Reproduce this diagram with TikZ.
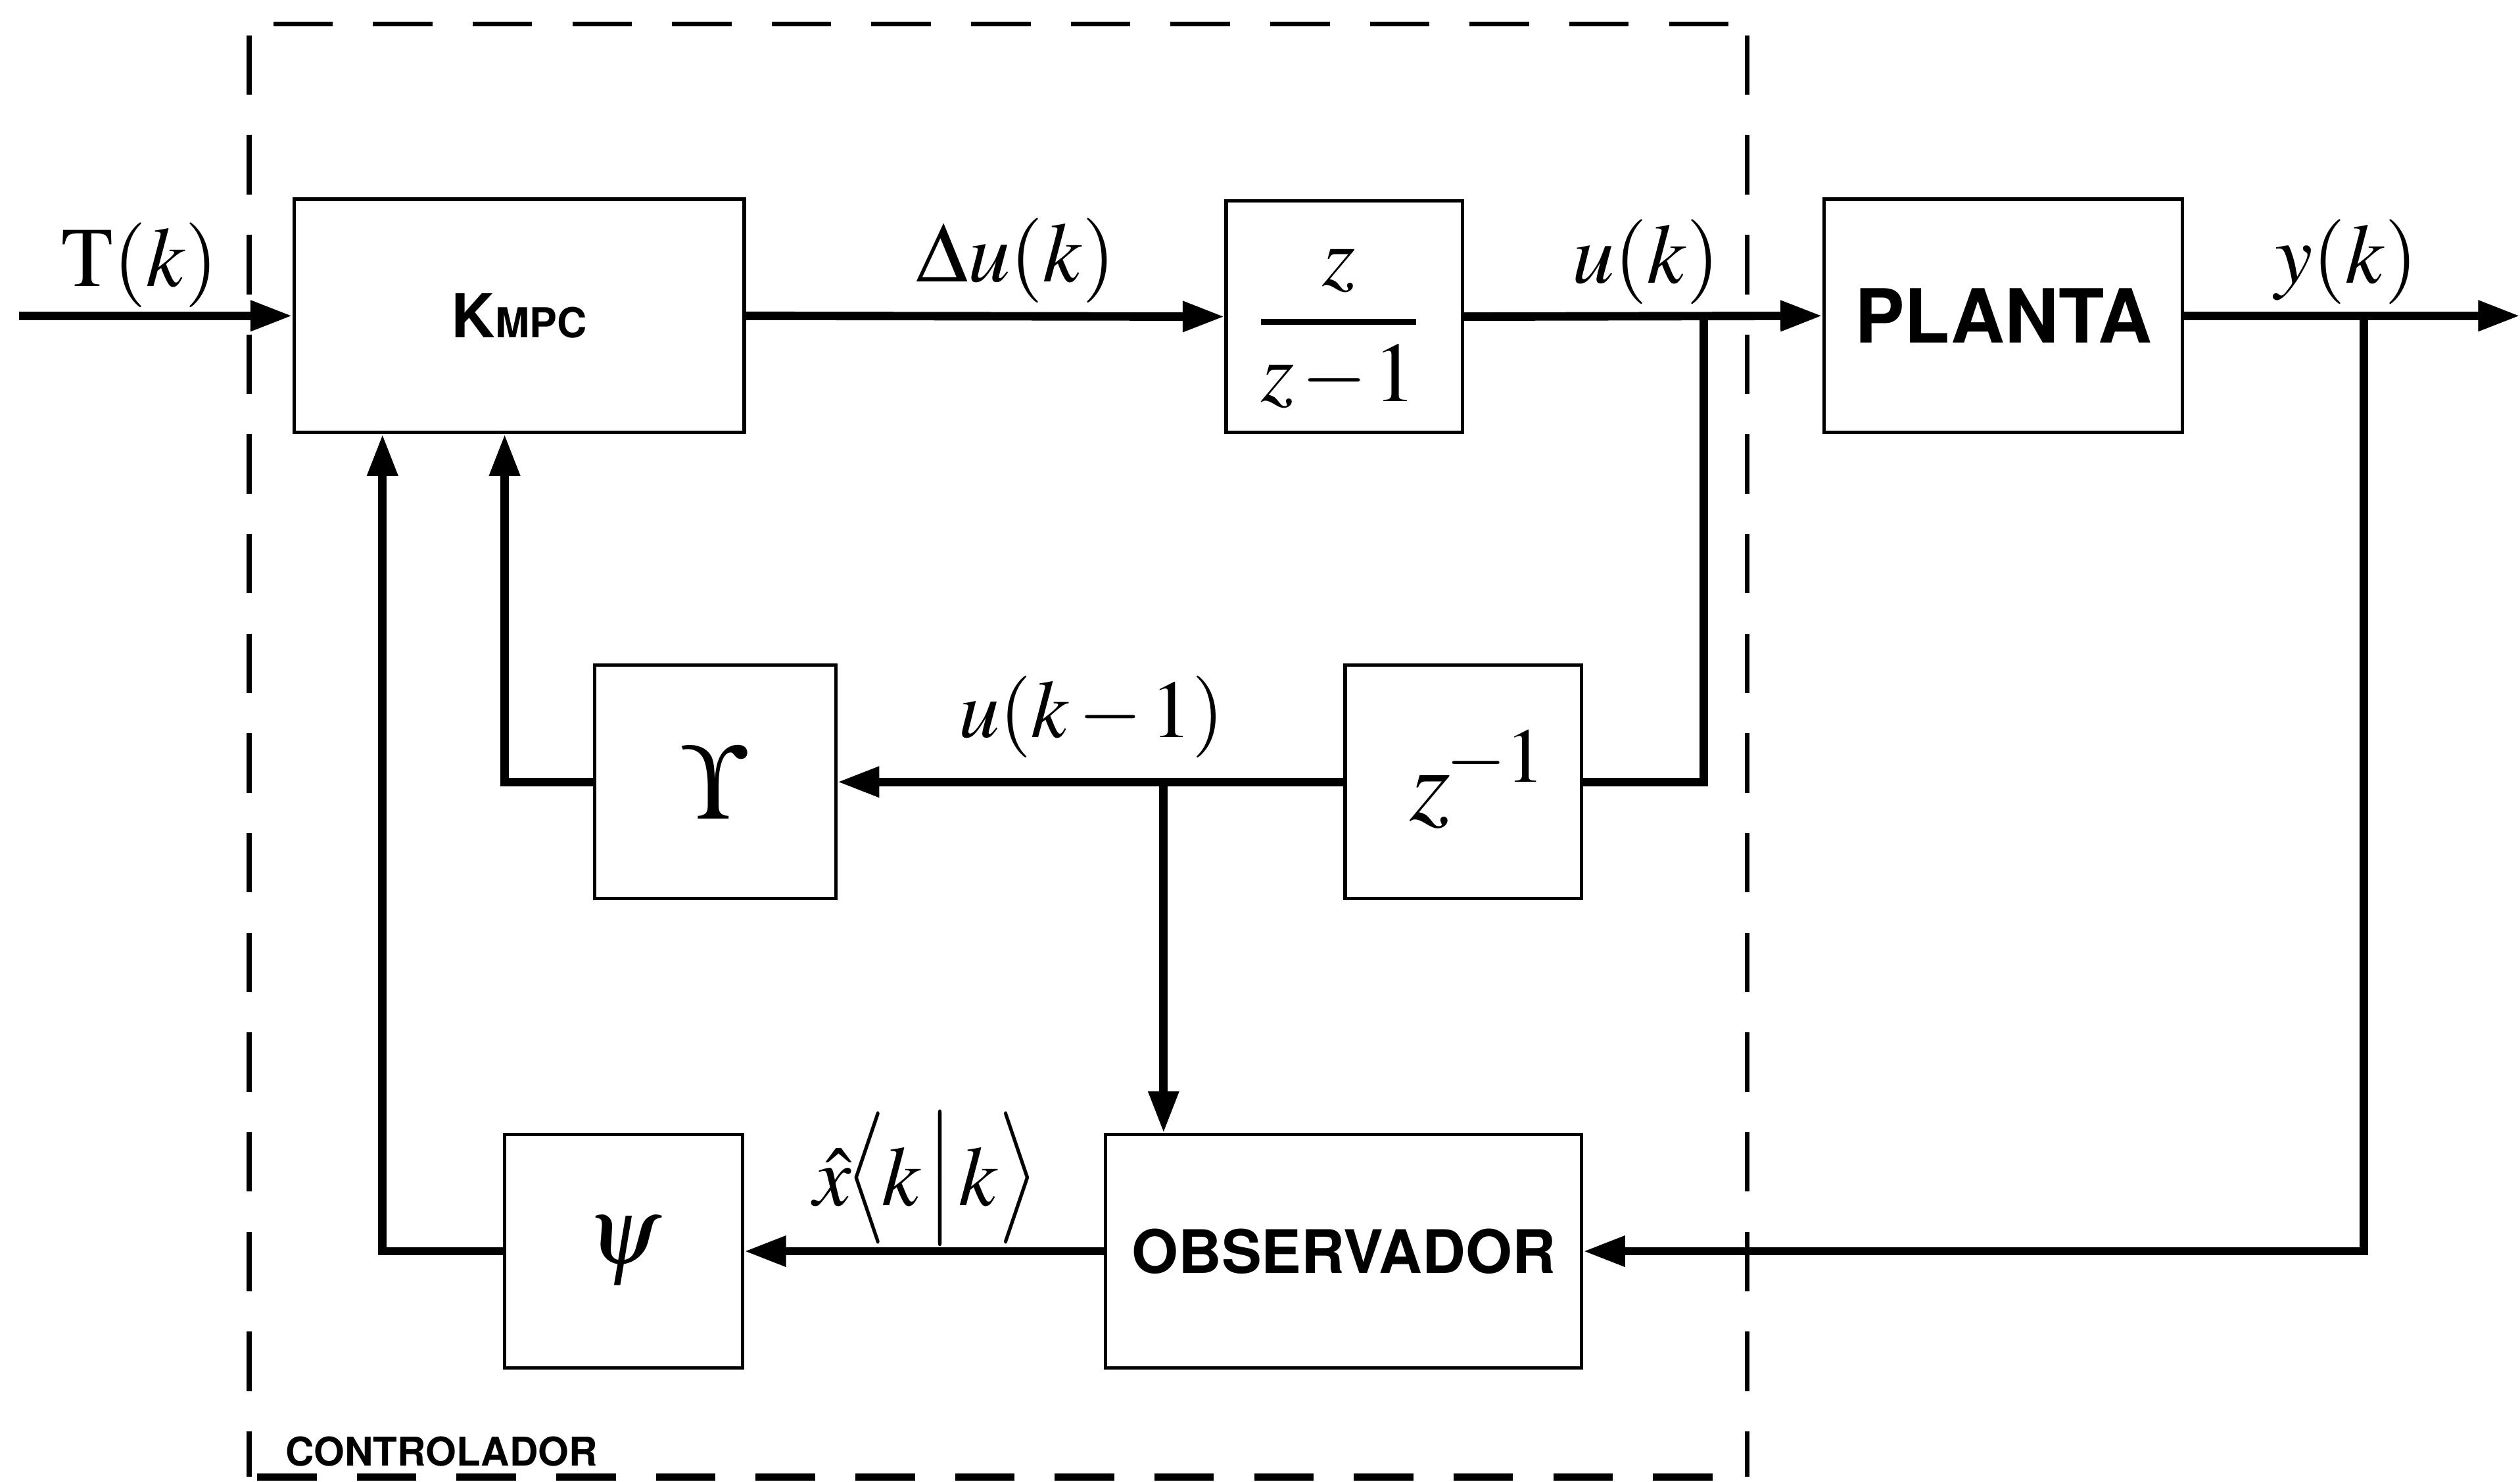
\documentclass[tikz,border=0pt]{standalone}
\usepackage{amsmath}
\usepackage{mathptmx}
\usepackage{fontspec}
\setmainfont{Liberation Serif}
\newfontfamily\heros{TeX Gyre Heros}
\usetikzlibrary{arrows.meta}
\newcommand{\tallbr}[1]{\scalebox{1}[1.3]{$#1$}}
\begin{document}
\begin{tikzpicture}[x=0.01cm,y=-0.01cm,
  blk/.style={draw, line width=0.6pt, rectangle, inner sep=0pt, align=center},
  conn/.style={line width=1.5pt},
  arr/.style={conn, -{Triangle[length=0.26cm,width=0.18cm]}},
  lbl/.style={inner sep=0pt, font=\fontsize{15}{18}\selectfont},
  sansb/.style={inner sep=0pt, font=\heros\bfseries},
  frame/.style={line width=0.85pt, dash pattern=on 0.37cm off 0.25cm}]
\useasboundingbox (0,0) rectangle (1568,922);

% dashed controller frame
\draw[frame] (170,15) -- (1087,15);
\draw[frame] (155,22) -- (155,919);
\draw[frame] (1087,22) -- (1087,919);
\draw[frame, line width=1.3pt] (160,919) -- (1087,919);

% blocks
\node[blk, minimum width=2.8cm, minimum height=1.45cm] (kmpc) at (323,196.5)
  {\heros\bfseries\fontsize{10.7}{12}\selectfont K\fontsize{7.3}{9}\selectfont MPC};
\node[blk, minimum width=1.47cm, minimum height=1.44cm] (integ) at (836.5,197) {};
\node[lbl] (integtxt) at (833,204.5)
  {$\genfrac{}{}{1.1pt}{0}{z}{z\mkern-1mu-\mkern-1mu1}$};
\node[blk, minimum width=2.23cm, minimum height=1.45cm] (planta) at (1246.5,196.5)
  {\heros\bfseries\fontsize{13.2}{15}\selectfont PLANTA};
\node[blk, minimum width=1.5cm, minimum height=1.45cm] (ups) at (445,486.5)
  {\fontsize{19}{22}\selectfont$\Upsilon$};
\node[blk, minimum width=1.47cm, minimum height=1.45cm] (zinv) at (910.5,486.5) {};
\node[lbl, font=\fontsize{18.5}{22}\selectfont] (zinvtxt) at (920,485)
  {$z^{\mkern-1mu-1}$};
\node[blk, minimum width=1.48cm, minimum height=1.45cm] (psi) at (388,778.5)
  {\fontsize{17}{20}\selectfont$\psi$};
\node[blk, minimum width=2.96cm, minimum height=1.45cm] (obs) at (836,778.5)
  {\heros\bfseries\fontsize{10.6}{12}\selectfont OBSERVADOR};

% signal labels
\node[lbl] (lT) at (87,165) {$\mathrm{T}(k)$};
\node[lbl] (ldu) at (632,162) {$\Delta u(k)$};
\node[lbl] (lu) at (1024,163) {$u(k)$};
\node[lbl] (ly) at (1460,163) {$y(k)$};
\node[lbl, font=\fontsize{14.5}{18}\selectfont] (luk) at (679,446)
  {$u(k\mkern2mu{-}\mkern2mu1)$};
\node[lbl] (lx) at (576,733)
  {$\hat{x}\mkern-1mu\tallbr{\bigl\langle}\mkern-1mu k\mkern1mu\tallbr{\big|}\mkern1mu k\tallbr{\bigr\rangle}$};
\node[sansb, anchor=west, font=\heros\bfseries\fontsize{7}{8}\selectfont] (lctrl) at (177,903) {CONTROLADOR};

% coordinates
\coordinate (in) at (12,196.5);
\coordinate (out) at (1568,196.5);
\coordinate (bu) at (1060,196.5);
\coordinate (bu2) at (1060,486.5);
\coordinate (bk) at (724,486.5);
\coordinate (by) at (1471,196.5);
\coordinate (by2) at (1471,778.5);
\coordinate (fu) at (314,486.5);
\coordinate (fp) at (238,778.5);

% connectors
\draw[arr] (in) -- (kmpc.west);
\draw[arr] (kmpc.east) -- (integ.west);
\draw[arr] (integ.east) -- (planta.west);
\draw[arr] (planta.east) -- (out);
\draw[conn] (bu) -- (bu2) -- (zinv.east);
\draw[arr] (zinv.west) -- (ups.east);
\draw[arr] (bk) -- (bk |- obs.north);
\draw[arr] (ups.west) -- (fu) -- (fu |- kmpc.south);
\draw[arr] (psi.west) -- (fp) -- (fp |- kmpc.south);
\draw[arr] (obs.west) -- (psi.east);
\draw[arr] (by) -- (by2) -- (obs.east);
\end{tikzpicture}
\end{document}
